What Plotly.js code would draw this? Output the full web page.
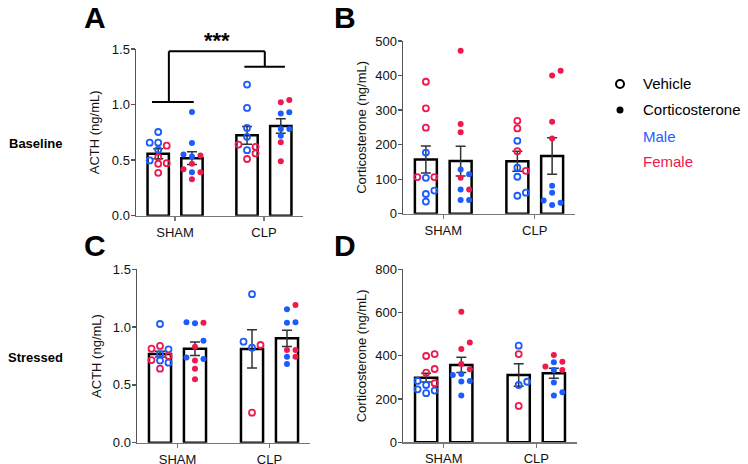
<!DOCTYPE html>
<html>
<head>
<meta charset="utf-8">
<script src="https://cdn.plot.ly/plotly-3.0.1.min.js"></script>
<style>
  html, body { margin: 0; padding: 0; background: #fff; }
  #chart { width: 748px; height: 464px; }
</style>
</head>
<body>
<div id="chart"></div>
<script>
const groups = ['SHAM', 'CLP'];
const treatments = ['Vehicle', 'Corticosterone'];

// column order in every panel: SHAM-Vehicle, SHAM-Cort, CLP-Vehicle, CLP-Cort
// A: baseline ACTH (ng/mL)
const acthBaseMale = [[0.753, 0.657, 0.657, 0.593, 0.497], [0.934, 0.654, 0.551, 0.533, 0.392], [1.18, 0.97, 0.79, 0.71, 0.59], [0.93, 0.92, 0.78, 0.78, 0.72]];
const acthBaseFemale = [[0.63, 0.527, 0.473, 0.467, 0.386], [0.542, 0.467, 0.419, 0.392, 0.328], [0.64, 0.62, 0.56, 0.51], [1.04, 1.02, 0.66, 0.49]];
const acthBaseMean = [0.557, 0.518, 0.723, 0.807];
const acthBaseSem = [0.045, 0.057, 0.08, 0.066];

// B: baseline corticosterone (ng/mL)
const cortBaseMale = [[177, 104, 67, 57, 35], [128, 114, 70, 40, 40], [211, 133, 107, 61, 52], [81, 61, 38, 32, 25]];
const cortBaseFemale = [[382, 305, 249, 106, 106], [472, 260, 236, 104, 70], [269, 247, 181, 124], [414, 400, 266, 218]];
const cortBaseMean = [157, 152.5, 152, 167];
const cortBaseSem = [39, 43, 29, 53];

// C: stressed ACTH (ng/mL)
const acthStressMale = [[1.027, 0.808, 0.767, 0.71, 0.692], [1.041, 1.033, 0.883, 0.738, 0.724], [1.285, 0.874, 0.822], [1.154, 1.041, 1.038, 0.744, 0.681]];
const acthStressFemale = [[0.837, 0.813, 0.75, 0.715, 0.64], [1.038, 0.831, 0.71, 0.64, 0.548], [0.845, 0.26], [1.191, 0.802, 0.802, 0.744]];
const acthStressMean = [0.767, 0.813, 0.811, 0.903];
const acthStressSem = [0.025, 0.058, 0.165, 0.07];

// D: stressed corticosterone (ng/mL)
const cortStressMale = [[284, 265, 245, 239, 227], [316, 311, 284, 281, 216], [447, 280, 265], [370, 334, 277, 231, 216]];
const cortStressFemale = [[408, 399, 339, 322, 273], [604, 461, 432, 362, 338], [408, 168], [404, 373, 350, 334]];
const cortStressMean = [299, 358, 311, 319];
const cortStressSem = [20, 35, 52, 23];

const W = 748, H = 464;
const FONT = '"Liberation Sans", Arial, Helvetica, sans-serif';
const BLUE = '#1b5cff';
const RED = '#f0194f';
const X_RANGE = [-0.44, 1.44];
const OFFSET = 0.19;

const panels = [
  { ax: '', letter: 'A', xd: [136, 303], yd: [49, 215.7], yr: [0, 1.5], dtick: 0.5, fmt: '.1f',
    title: 'ACTH (ng/mL)', male: acthBaseMale, female: acthBaseFemale, mean: acthBaseMean, sem: acthBaseSem },
  { ax: '2', letter: 'B', xd: [403, 575], yd: [41, 213.7], yr: [0, 500], dtick: 100, fmt: 'd',
    title: 'Corticosterone (ng/mL)', male: cortBaseMale, female: cortBaseFemale, mean: cortBaseMean, sem: cortBaseSem },
  { ax: '3', letter: 'C', xd: [137, 310], yd: [269.3, 442.7], yr: [0, 1.5], dtick: 0.5, fmt: '.1f',
    title: 'ACTH (ng/mL)', male: acthStressMale, female: acthStressFemale, mean: acthStressMean, sem: acthStressSem },
  { ax: '4', letter: 'D', xd: [403, 577], yd: [269.3, 442.3], yr: [0, 800], dtick: 200, fmt: 'd',
    title: 'Corticosterone (ng/mL)', male: cortStressMale, female: cortStressFemale, mean: cortStressMean, sem: cortStressSem },
];
// panel letter centres (px)
const letterPos = [[95, 17], [345, 17], [95, 245], [345, 245]];

// Prism-like scatter: stack dots into side slots when they would overlap
function swarmSlots(vals, pxPerY) {
  const order = vals.map((v, i) => i).sort((a, b) => vals[a] - vals[b]);
  const slots = new Array(vals.length);
  const tries = [0, 1, -1, 2, -2, 3, -3];
  order.forEach(i => {
    for (const k of tries) {
      const clash = order.some(j => slots[j] === k && Math.abs(vals[j] - vals[i]) * pxPerY < 6.5);
      if (!clash) { slots[i] = k; break; }
    }
  });
  return slots;
}

const colX = c => Math.floor(c / 2) + (c % 2 ? OFFSET : -OFFSET);

const traces = [];
const layout = {
  width: W, height: H,
  margin: { l: 0, r: 0, t: 0, b: 0 },
  paper_bgcolor: '#fff', plot_bgcolor: 'rgba(0,0,0,0)',
  font: { family: FONT, color: '#111', size: 13 },
  showlegend: false,
  annotations: [],
  shapes: [],
};

function note(px, py, text, size, color, xanchor) {
  layout.annotations.push({
    xref: 'paper', yref: 'paper', x: px / W, y: 1 - py / H,
    xanchor: xanchor || 'center', yanchor: 'middle',
    text, showarrow: false, font: { size, color },
  });
}

panels.forEach((p, n) => {
  const xa = 'x' + p.ax, ya = 'y' + p.ax;
  const pxPerY = (p.yd[1] - p.yd[0]) / (p.yr[1] - p.yr[0]);
  const pxPerX = (p.xd[1] - p.xd[0]) / (X_RANGE[1] - X_RANGE[0]);
  const step = 8.5 / pxPerX;

  traces.push({
    type: 'bar', xaxis: xa, yaxis: ya,
    x: p.mean.map((m, c) => colX(c)), y: p.mean, width: 0.24,
    marker: { color: '#fff', line: { color: '#000', width: 2.5 } },
    error_y: { type: 'data', array: p.sem, visible: true, color: '#333', thickness: 1.5, width: 5 },
    hoverinfo: 'skip',
  });

  treatments.forEach((tname, t) => {
    const xs = [], ys = [], cols = [];
    p.mean.forEach((m, c) => {
      if (c % 2 !== t) return;
      const vals = p.male[c].concat(p.female[c]);
      const slots = swarmSlots(vals, pxPerY);
      vals.forEach((v, i) => {
        xs.push(colX(c) + slots[i] * step);
        ys.push(v);
        cols.push(i < p.male[c].length ? BLUE : RED);
      });
    });
    traces.push({
      type: 'scatter', mode: 'markers', xaxis: xa, yaxis: ya, name: tname,
      x: xs, y: ys,
      marker: t
        ? { symbol: 'circle', size: 6, color: cols, line: { width: 0 } }
        : { symbol: 'circle-open', size: 6, color: cols, line: { width: 1.8, color: cols } },
      hoverinfo: 'y',
    });
  });

  layout['xaxis' + p.ax] = {
    domain: [p.xd[0] / W, p.xd[1] / W], range: X_RANGE, anchor: ya,
    tickvals: [0, 1], ticktext: groups,
    ticks: 'outside', ticklen: 4, tickwidth: 1.3, tickcolor: '#777',
    showline: true, linecolor: '#777', linewidth: 1.5,
    showgrid: false, zeroline: false, fixedrange: true,
    tickfont: { size: 13, color: '#111' },
  };
  layout['yaxis' + p.ax] = {
    domain: [1 - p.yd[1] / H, 1 - p.yd[0] / H], range: p.yr, anchor: xa,
    tick0: 0, dtick: p.dtick, tickformat: p.fmt,
    ticks: 'outside', ticklen: 4, tickwidth: 1.3, tickcolor: '#555',
    ticklabelstandoff: -2,
    showline: true, linecolor: '#555', linewidth: 1.5,
    showgrid: false, zeroline: false, fixedrange: true,
    tickfont: { size: 13, color: '#111' },
    title: { text: p.title, font: { size: 13, color: '#111' } },
  };

  note(letterPos[n][0], letterPos[n][1], '<b>' + p.letter + '</b>', 30, '#000');
});

// significance bracket on panel A (SHAM vs CLP)
const bracket = { color: '#000', width: 2 };
[
  [-0.26, 1.023, 0.21, 1.023], [-0.07, 1.023, -0.07, 1.48], [-0.07, 1.48, 1.01, 1.48],
  [1.01, 1.48, 1.01, 1.34], [0.78, 1.34, 1.236, 1.34],
].forEach(([x0, y0, x1, y1]) => {
  layout.shapes.push({ type: 'line', xref: 'x', yref: 'y', x0, y0, x1, y1, line: bracket });
});
note(217, 40, '<b>***</b>', 22, '#000');

// row labels
note(35, 143, '<b>Baseline</b>', 13, '#000');
note(35, 357, '<b>Stressed</b>', 13, '#000');

// key
note(641, 84, 'Vehicle', 15, '#000', 'left');
note(641, 110, 'Corticosterone', 15, '#000', 'left');
note(641, 136, 'Male', 15, BLUE, 'left');
note(641, 161, 'Female', 15, RED, 'left');
layout.shapes.push(
  { type: 'circle', xref: 'paper', yref: 'paper', x0: 616 / W, x1: 624 / W, y0: 1 - 88 / H, y1: 1 - 80 / H,
    line: { color: '#000', width: 2 }, fillcolor: 'rgba(0,0,0,0)' },
  { type: 'circle', xref: 'paper', yref: 'paper', x0: 616.5 / W, x1: 623.5 / W, y0: 1 - 113.5 / H, y1: 1 - 106.5 / H,
    line: { color: '#000', width: 0 }, fillcolor: '#000' }
);

Plotly.newPlot('chart', traces, layout, { displayModeBar: false, staticPlot: true });
</script>
</body>
</html>
